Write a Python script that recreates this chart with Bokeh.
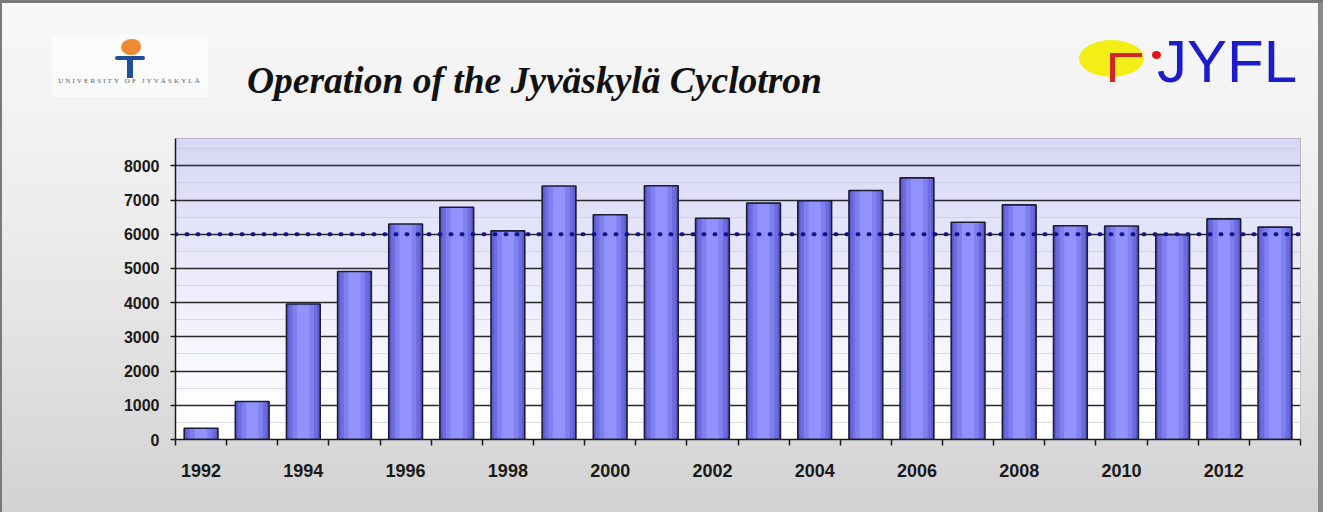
from bokeh.plotting import figure
from bokeh.layouts import column
from bokeh.models import Range1d, FixedTicker, Span, BoxAnnotation, Div
from bokeh.embed import file_html
from bokeh.resources import INLINE

# ---- data ----
years = list(range(1992, 2014))
hours = [330, 1110, 3960, 4910, 6300, 6790, 6100, 7410, 6570, 7420, 6470,
         6910, 6980, 7280, 7650, 6350, 6860, 6250, 6240, 5990, 6450, 6210]
y_ticks = [0, 1000, 2000, 3000, 4000, 5000, 6000, 7000, 8000]
y_minor = [500, 1500, 2500, 3500, 4500, 5500, 6500, 7500, 8500]
x_label_years = [1992, 1994, 1996, 1998, 2000, 2002, 2004, 2006, 2008, 2010, 2012]
reference_level = 6000
title_text = "Operation of the Jyväskylä Cyclotron"
univ_text = "UNIVERSITY OF JYVÄSKYLÄ"
jyfl_text = "JYFL"

W = 1323
HEAD_H = 138
CHART_H = 512 - HEAD_H


# ---------------- header (title + logos) as positioned HTML ----------------
def shape(l, t, w, h, color, radius="0"):
    return ('<div style="position:absolute;left:%dpx;top:%dpx;width:%dpx;height:%dpx;'
            'background:%s;border-radius:%s;"></div>' % (l, t, w, h, color, radius))


header_html = (
    '<div style="position:relative;width:%dpx;height:%dpx;overflow:visible;">' % (W, HEAD_H)
    # university logo
    + shape(52, 35, 156, 62, "rgba(255,255,255,0.6)")
    + shape(121, 39, 20, 16, "#ef8a34", "55% 45% 50% 50%")
    + shape(115, 56, 30, 4, "#1f4f98", "2px")
    + shape(127, 56, 6, 22, "#1f4f98")
    + '<div style="position:absolute;left:50px;top:78px;width:160px;text-align:center;'
      'font-family:\'Liberation Serif\';font-size:7px;line-height:7px;letter-spacing:2.1px;'
      'color:#5a5a6a;white-space:nowrap;">' + univ_text + '</div>'
    # title
    + '<div style="position:absolute;left:247px;top:62px;white-space:nowrap;'
      'font-family:\'Liberation Serif\';font-weight:bold;font-style:italic;'
      'font-size:37.5px;line-height:37px;color:#111111;">' + title_text + '</div>'
    # JYFL logo
    + shape(1079, 40, 65, 37, "#f3ee16", "50%")
    + shape(1110, 53, 5, 29, "#d42424")
    + shape(1110, 53, 32, 4, "#d42424")
    + shape(1152, 51, 9, 8, "#e01414", "50%")
    + '<div style="position:absolute;left:1157px;top:32px;white-space:nowrap;'
      'font-family:\'Liberation Sans\';font-size:60px;line-height:60px;'
      'color:#1c1cc8;">' + jyfl_text + '</div>'
    + '</div>'
)
head = Div(text=header_html, width=W, height=HEAD_H, margin=0)

# ---------------- chart ----------------
p = figure(width=W, height=CHART_H, output_backend="svg", toolbar_location=None,
           x_range=Range1d(years[0] - 0.5, years[-1] + 0.5),
           y_range=Range1d(0, 8800),
           min_border_left=175, min_border_right=23,
           min_border_top=0, min_border_bottom=73)

p.border_fill_color = None
p.background_fill_color = "white"
p.outline_line_color = "#a0a0a8"

# plot-area gradient (lavender top -> white bottom)
n_bands = 44
top_rgb = (214, 214, 247)
for i in range(n_bands):
    f = (i + 0.5) / n_bands
    f = max(0.0, (f - 0.08) / 0.92)
    r = int(round(255 + (top_rgb[0] - 255) * f))
    g = int(round(255 + (top_rgb[1] - 255) * f))
    b = int(round(255 + (top_rgb[2] - 255) * f))
    col = "#%02x%02x%02x" % (r, g, b)
    p.add_layout(BoxAnnotation(bottom=8800 * i / n_bands, top=8800 * (i + 1) / n_bands,
                               fill_color=col, fill_alpha=1, line_color=col,
                               line_width=1, level="image"))

# grid
p.xgrid.grid_line_color = None
p.ygrid.grid_line_color = "#2a2a2a"
p.ygrid.grid_line_width = 1.3
p.ygrid.minor_grid_line_color = "#c4c4d8"
p.ygrid.minor_grid_line_alpha = 0.6

# bars (cylinder-like shading by layering)
p.vbar(x=years, top=hours, width=0.66, fill_color="#5a5acb", line_color=None)
p.vbar(x=years, top=hours, width=0.56, fill_color="#6c6cdf", line_color=None)
p.vbar(x=years, top=hours, width=0.42, fill_color="#7f7ff0", line_color=None)
p.vbar(x=years, top=hours, width=0.24, fill_color="#9292fd", line_color=None)
p.vbar(x=years, top=hours, width=0.66, fill_color=None, line_color="#1c1c38", line_width=1.6)

# reference dotted line
p.add_layout(Span(location=reference_level, dimension="width", line_color="#12128c",
                  line_width=4, line_dash="1 10", line_cap="round"))

# axes
boundaries = [y - 0.5 for y in years] + [years[-1] + 0.5]
xa = p.xaxis[0]
xa.ticker = FixedTicker(ticks=x_label_years, minor_ticks=boundaries)
xa.major_tick_out = 0
xa.major_tick_in = 0
xa.minor_tick_out = 6
xa.minor_tick_in = 0
xa.minor_tick_line_color = "#1a1a1a"
xa.minor_tick_line_width = 1.5
xa.axis_line_color = "#1a1a1a"
xa.axis_line_width = 1.5
xa.major_label_standoff = 18
xa.major_label_text_font = "Liberation Sans"
xa.major_label_text_font_style = "bold"
xa.major_label_text_font_size = "18px"
xa.major_label_text_color = "#1a1a1a"

ya = p.yaxis[0]
ya.ticker = FixedTicker(ticks=y_ticks, minor_ticks=y_minor)
ya.major_tick_out = 5
ya.major_tick_in = 0
ya.minor_tick_out = 0
ya.minor_tick_in = 0
ya.major_tick_line_color = "#1a1a1a"
ya.major_tick_line_width = 1.5
ya.axis_line_color = "#1a1a1a"
ya.axis_line_width = 1.5
ya.major_label_standoff = 11
ya.major_label_text_font = "Liberation Sans"
ya.major_label_text_font_style = "bold"
ya.major_label_text_font_size = "16px"
ya.major_label_text_color = "#1a1a1a"

page = column(head, p, spacing=0, styles={
    "background": "linear-gradient(to bottom, #f8f8f8 0%, #ececec 45%, #d2d2d2 100%)",
    "box-shadow": "inset 2px 3px 0 #7a7a7a, inset -5px 0 0 #8a8a8a",
})

open("out.html", "w").write(file_html(page, INLINE))
